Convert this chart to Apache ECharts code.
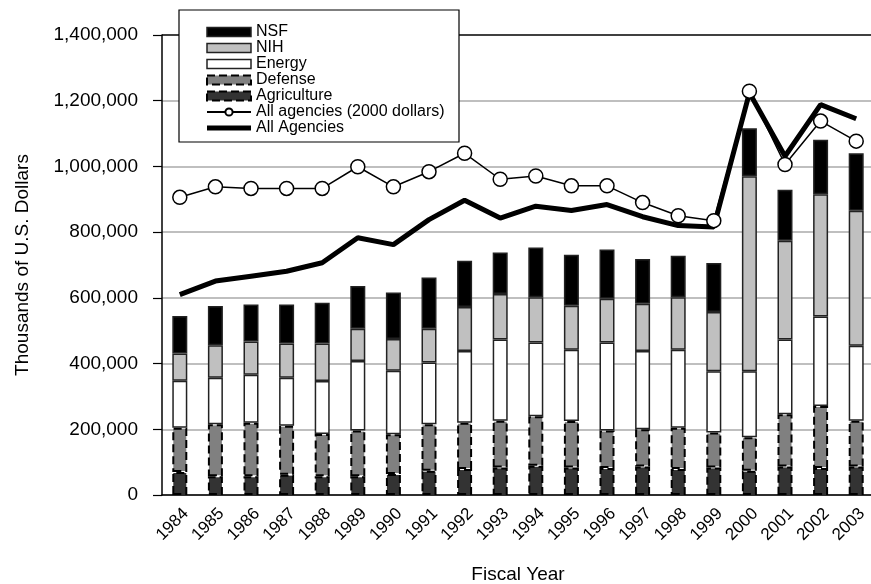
<!DOCTYPE html>
<html>
<head>
<meta charset="utf-8">
<style>
  html, body { margin: 0; padding: 0; background: #fff; }
  #chart { width: 871px; height: 584px; }
</style>
<script src="https://cdn.jsdelivr.net/npm/echarts@6/dist/echarts.min.js"></script>
</head>
<body>
<div id="chart"></div>
<script>
// Datos (miles de dólares)
const years = ['1984', '1985', '1986', '1987', '1988', '1989', '1990', '1991', '1992', '1993',
               '1994', '1995', '1996', '1997', '1998', '1999', '2000', '2001', '2002', '2003'];
const agriculture = [70000, 57000, 57000, 62000, 57000, 57000, 64000, 74000, 79000, 84000,
                     89000, 84000, 82000, 87000, 79000, 84000, 74000, 87000, 82000, 87000];
const defense = [135000, 158000, 163000, 149000, 129000, 139000, 121000, 141000, 141000, 142000,
                 151000, 141000, 114000, 113000, 126000, 106000, 102000, 159000, 189000, 139000];
const energy = [143000, 142000, 146000, 146000, 161000, 212000, 193000, 188000, 218000, 247000,
                224000, 217000, 268000, 238000, 237000, 187000, 201000, 227000, 272000, 228000];
const nih = [83000, 99000, 101000, 104000, 114000, 98000, 97000, 103000, 134000, 139000,
             138000, 134000, 133000, 144000, 160000, 180000, 593000, 301000, 372000, 411000];
const nsf = [114000, 119000, 113000, 119000, 124000, 130000, 141000, 156000, 141000, 126000,
             151000, 155000, 150000, 136000, 126000, 149000, 146000, 155000, 166000, 175000];
const allAgencies2000 = [906000, 938000, 933000, 933000, 933000, 999000, 938000, 984000, 1040000, 961000,
                         971000, 941000, 941000, 890000, 850000, 835000, 1229000, 1006000, 1138000, 1077000];
const allAgencies = [610000, 651000, 666000, 681000, 707000, 783000, 762000, 838000, 897000, 843000,
                     879000, 866000, 884000, 847000, 820000, 816000, 1224000, 1031000, 1188000, 1145000];

const FONT = '"Liberation Sans", Arial, Helvetica, sans-serif';

const chart = echarts.init(document.getElementById('chart'));

function barSerie(name, data, color, dashed) {
    return {
        name: name,
        type: 'bar',
        stack: 'total',
        barWidth: 15,
        data: data,
        itemStyle: {
            color: color,
            borderColor: dashed ? '#000' : '#222',
            borderWidth: dashed ? 2 : 1.5,
            borderType: dashed ? 'dashed' : 'solid'
        },
        emphasis: { disabled: true }
    };
}

function legendBar(name, color, dashed) {
    return {
        name: name,
        icon: 'rect',
        itemStyle: {
            color: color,
            borderColor: dashed ? '#000' : '#222',
            borderWidth: dashed ? 2 : 1.5,
            borderType: dashed ? 'dashed' : 'solid'
        }
    };
}

chart.setOption({
    backgroundColor: '#fff',
    animation: false,
    textStyle: { fontFamily: FONT, color: '#000' },
    grid: { left: 162, top: 35, width: 712, height: 460, outerBoundsMode: 'none', containLabel: false },
    graphic: [{
        type: 'rect',
        z: 10,
        shape: { x: 179, y: 10, width: 280, height: 132 },
        style: { fill: '#fff', stroke: '#000', lineWidth: 1.2 }
    }],
    legend: {
        orient: 'vertical',
        left: 206,
        top: 24,
        padding: 0,
        itemGap: 0,
        itemWidth: 44,
        itemHeight: 9,
        z: 20,
        selectedMode: false,
        textStyle: { fontFamily: FONT, fontSize: 16, lineHeight: 16, color: '#000' },
        data: [
            legendBar('NSF', '#000', false),
            legendBar('NIH', '#c0c0c0', false),
            legendBar('Energy', '#fff', false),
            legendBar('Defense', '#808080', true),
            legendBar('Agriculture', '#333', true),
            { name: 'All agencies (2000 dollars)' },
            {
                name: 'All Agencies',
                icon: 'path://M0,0L44,0L44,5L0,5Z',
                itemStyle: { color: '#000', borderWidth: 0 }
            }
        ]
    },
    xAxis: {
        type: 'category',
        data: years,
        name: 'Fiscal Year',
        nameLocation: 'middle',
        nameGap: 70,
        nameTextStyle: { fontFamily: FONT, fontSize: 19, color: '#000' },
        axisLine: { lineStyle: { color: '#000', width: 1.5 } },
        axisTick: { length: 5, lineStyle: { color: '#000', width: 1.2 } },
        axisLabel: {
            rotate: 45,
            fontSize: 17,
            color: '#000',
            margin: 10,
            verticalAlign: 'top',
            interval: 0
        }
    },
    yAxis: {
        type: 'value',
        min: 0,
        max: 1400000,
        interval: 200000,
        name: 'Thousands of U.S. Dollars',
        nameLocation: 'middle',
        nameRotate: 90,
        nameGap: 130,
        nameTextStyle: { fontFamily: FONT, fontSize: 19, color: '#000' },
        axisLine: { show: true, lineStyle: { color: '#000', width: 1.5 } },
        axisTick: { show: true, length: 9, lineStyle: { color: '#000', width: 1.2 } },
        axisLabel: {
            fontSize: 19,
            color: '#000',
            margin: 24,
            formatter: function (v) { return v.toLocaleString('en-US'); }
        },
        splitLine: {
            lineStyle: {
                color: ['#aaa', '#aaa', '#aaa', '#aaa', '#aaa', '#aaa', '#aaa', '#000'],
                width: 1.5
            }
        }
    },
    series: [
        barSerie('Agriculture', agriculture, '#333', true),
        barSerie('Defense', defense, '#808080', true),
        barSerie('Energy', energy, '#fff', false),
        barSerie('NIH', nih, '#c0c0c0', false),
        barSerie('NSF', nsf, '#000', false),
        {
            name: 'All agencies (2000 dollars)',
            type: 'line',
            data: allAgencies2000,
            symbol: 'circle',
            symbolSize: 14,
            lineStyle: { color: '#000', width: 1.5 },
            itemStyle: { color: '#fff', borderColor: '#000', borderWidth: 1.5 },
            emphasis: { disabled: true }
        },
        {
            name: 'All Agencies',
            type: 'line',
            data: allAgencies,
            symbol: 'none',
            lineStyle: { color: '#000', width: 5 },
            itemStyle: { color: '#000' },
            emphasis: { disabled: true }
        }
    ]
});
</script>
</body>
</html>
